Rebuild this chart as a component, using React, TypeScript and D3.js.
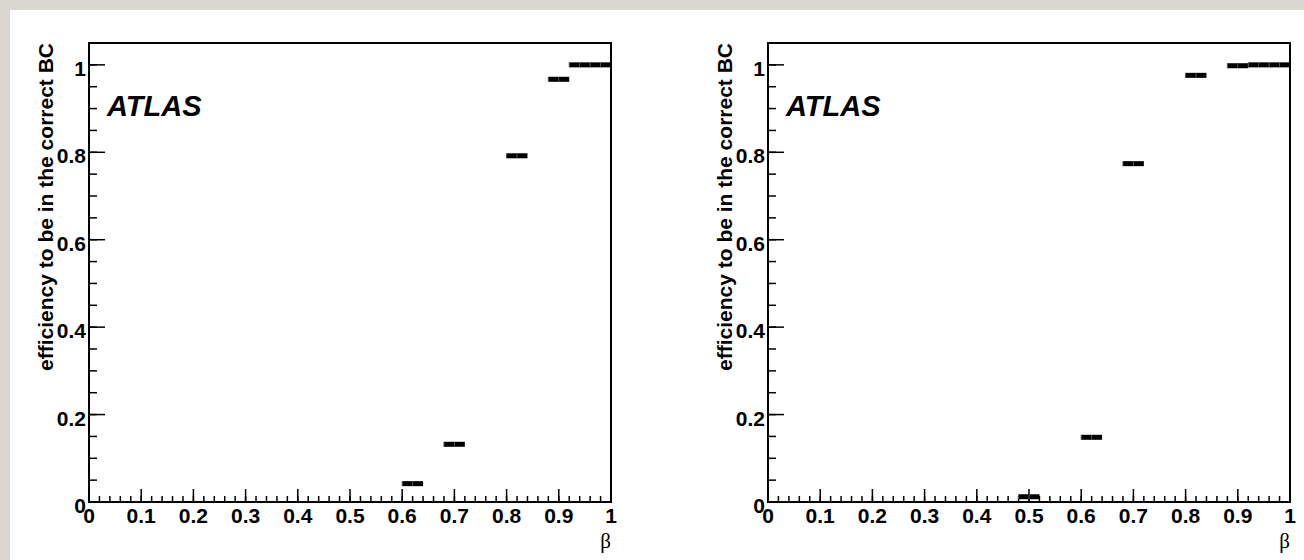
import React from "react";
import * as d3 from "d3";

// ---- data ----
const binWidth = 0.04;
const leftBinLow = [0.6, 0.68, 0.8, 0.88, 0.92, 0.96];
const leftEff = [0.042, 0.132, 0.792, 0.967, 1.0, 1.0];
const rightBinLow = [0.48, 0.6, 0.68, 0.8, 0.88, 0.92, 0.96];
const rightEff = [0.012, 0.148, 0.774, 0.976, 0.998, 1.0, 1.0];

const xTickValues = [0, 0.1, 0.2, 0.3, 0.4, 0.5, 0.6, 0.7, 0.8, 0.9, 1];
const xTickLabels = ["0", "0.1", "0.2", "0.3", "0.4", "0.5", "0.6", "0.7", "0.8", "0.9", "1"];
const yTickValues = [0, 0.2, 0.4, 0.6, 0.8, 1];
const yTickLabels = ["0", "0.2", "0.4", "0.6", "0.8", "1"];

const yTitle = "efficiency to be in the correct BC";
const xTitle = "β";
const watermark = "ATLAS";

const W = 1304;
const H = 560;
const TOP = 43;
const BOTTOM = 502;
const SANS = "'Liberation Sans', Arial, Helvetica, sans-serif";

type PanelProps = { left: number; right: number; lows: number[]; vals: number[] };

function Panel({ left, right, lows, vals }: PanelProps) {
  const x = d3.scaleLinear().domain([0, 1]).range([left, right]);
  const y = d3.scaleLinear().domain([0, 1.05]).range([BOTTOM, TOP]);
  const xMinor = d3.range(0, 1.0001, 0.02);
  const yMinor = d3.range(0, 1.0001, 0.05);
  return (
    <g>
      {/* ticks */}
      {xMinor.map((v, i) => (
        <line key={"xm" + i} x1={x(v)} x2={x(v)} y1={BOTTOM} y2={BOTTOM - 6} stroke="#000" strokeWidth={1.5} />
      ))}
      {xTickValues.map((v, i) => (
        <line key={"xM" + i} x1={x(v)} x2={x(v)} y1={BOTTOM} y2={BOTTOM - 13} stroke="#000" strokeWidth={1.5} />
      ))}
      {yMinor.map((v, i) => (
        <line key={"ym" + i} x1={left} x2={left + 8} y1={y(v)} y2={y(v)} stroke="#000" strokeWidth={1.5} />
      ))}
      {yTickValues.map((v, i) => (
        <line key={"yM" + i} x1={left} x2={left + 16} y1={y(v)} y2={y(v)} stroke="#000" strokeWidth={1.5} />
      ))}
      {/* data */}
      {lows.map((lo, i) => {
        const x0 = x(lo);
        const x1 = x(lo + binWidth);
        const xc = x(lo + binWidth / 2);
        const yc = y(vals[i]);
        return (
          <g key={"b" + i}>
            <rect x={x0} y={yc - 2.5} width={x1 - x0} height={5} fill="#000" />
            <line x1={xc} x2={xc} y1={yc - 2.5} y2={yc + 2.5} stroke="#555" strokeWidth={1} />
            <line x1={x0} x2={x0} y1={yc - 2.5} y2={yc + 2.5} stroke="#555" strokeWidth={1} />
          </g>
        );
      })}
      {/* frame */}
      <rect x={left} y={TOP} width={right - left} height={BOTTOM - TOP} fill="none" stroke="#000" strokeWidth={2} />
      {/* tick labels */}
      {xTickValues.map((v, i) => (
        <text key={"xl" + i} x={x(v)} y={523} textAnchor="middle" fontFamily={SANS} fontWeight="bold" fontSize={21} fill="#000">
          {xTickLabels[i]}
        </text>
      ))}
      {yTickValues.map((v, i) => (
        <text key={"yl" + i} x={left - 3} y={y(v) + 11} textAnchor="end" fontFamily={SANS} fontWeight="bold" fontSize={21} fill="#000">
          {yTickLabels[i]}
        </text>
      ))}
      {/* titles */}
      <text
        transform={`translate(${left - 36},${TOP}) rotate(-90)`}
        textAnchor="end"
        fontFamily={SANS}
        fontWeight="bold"
        fontSize={21}
        fill="#000"
      >
        {yTitle}
      </text>
      <text x={right} y={548} textAnchor="end" fontFamily="'Liberation Serif', 'Times New Roman', serif" fontSize={21} fill="#000">
        {xTitle}
      </text>
      <text x={left + 18} y={116} fontFamily={SANS} fontWeight="bold" fontStyle="italic" fontSize={29} fill="#000">
        {watermark}
      </text>
    </g>
  );
}

export default function App() {
  return (
    <svg
      width={W}
      height={H}
      viewBox={`0 0 ${W} ${H}`}
      style={{ position: "absolute", left: 0, top: 0, display: "block" }}
    >
      <rect x={0} y={0} width={W} height={H} fill="#dad7d2" />
      <rect x={10} y={10} width={W - 10} height={H - 10} fill="#fff" />
      <Panel left={89} right={611} lows={leftBinLow} vals={leftEff} />
      <Panel left={768} right={1290} lows={rightBinLow} vals={rightEff} />
    </svg>
  );
}
